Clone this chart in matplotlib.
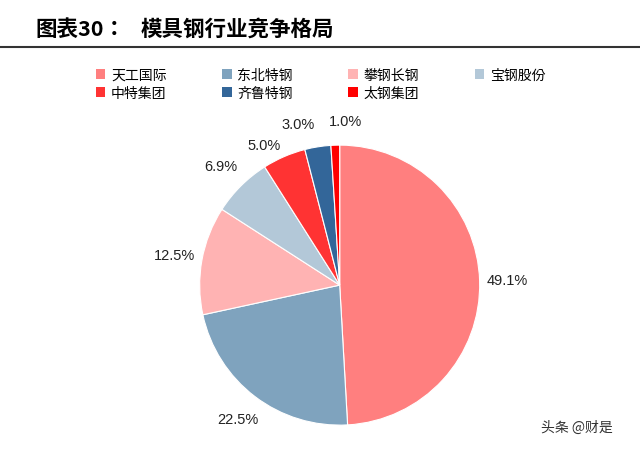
import matplotlib.pyplot as plt
from matplotlib.patches import Patch

plt.rcParams["font.family"] = "sans-serif"
plt.rcParams["font.sans-serif"] = ["Noto Sans CJK SC", "Noto Sans CJK JP", "DejaVu Sans"]

# Data
companies = ["天工国际", "东北特钢", "攀钢长钢", "宝钢股份", "中特集团", "齐鲁特钢", "太钢集团"]
shares = [49.1, 22.5, 12.5, 6.9, 5.0, 3.0, 1.0]
colors = ["#FF7F7F", "#7FA3BE", "#FFB3B3", "#B3C8D8", "#FF3333", "#336699", "#FF0000"]

fig = plt.figure(figsize=(6.4, 4.52), dpi=100)

fig.text(0.055, 0.935, "图表30：", fontsize=15.5, fontweight="bold", va="center")
fig.text(0.22, 0.935, "模具钢行业竞争格局", fontsize=15.5, fontweight="bold", va="center")
fig.add_artist(plt.Line2D([0.0, 1.0], [0.893, 0.893], color="#333333", lw=1.5))

ax = fig.add_axes([0.312, 0.057, 0.4375, 0.62])
wedges, texts, autotexts = ax.pie(
    shares, colors=colors, startangle=90, counterclock=False,
    autopct="%.1f%%", pctdistance=1.2,
    wedgeprops={"edgecolor": "white", "linewidth": 0.8},
    textprops={"fontsize": 10.5, "color": "#222222", "family": "Liberation Sans"})
ax.set_xlim(-1, 1)
ax.set_ylim(-1, 1)
ax.set_aspect("equal")

# nudge the thin slices' labels apart
autotexts[4].set_position((-0.54, 1.0))
autotexts[5].set_position((-0.3, 1.15))
autotexts[6].set_position((0.04, 1.17))

# legend filled row by row
order = [0, 4, 1, 5, 2, 6, 3]
handles = [Patch(facecolor=colors[i], label=companies[i]) for i in order]
fig.legend(handles=handles, ncol=4, loc="upper left", bbox_to_anchor=(0.13, 0.875),
           frameon=False, fontsize=10, handlelength=0.7, handleheight=0.7,
           columnspacing=4.0, handletextpad=0.4, labelspacing=0.3)

fig.text(0.845, 0.045, "头条 @财是", fontsize=10, color="#333333")

fig.savefig("out.png", dpi=100)
